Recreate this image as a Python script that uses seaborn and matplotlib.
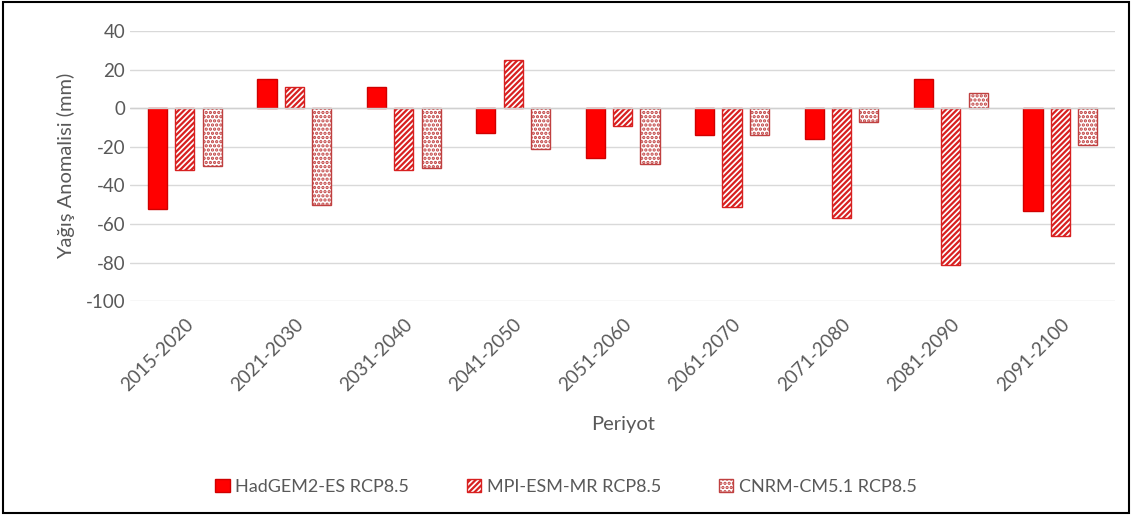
import matplotlib

matplotlib.use("Agg")
import matplotlib.pyplot as plt
import pandas as pd
import seaborn as sns
from matplotlib.patches import Patch

PERIODS = [
    "2015-2020", "2021-2030", "2031-2040", "2041-2050", "2051-2060",
    "2061-2070", "2071-2080", "2081-2090", "2091-2100",
]
MODELS = ["HadGEM2-ES RCP8.5", "MPI-ESM-MR RCP8.5", "CNRM-CM5.1 RCP8.5"]
HADGEM = [-52, 15, 11, -13, -26, -14, -16, 15, -53]
MPI = [-32, 11, -32, 25, -9, -51, -57, -81, -66]
CNRM = [-30, -50, -31, -21, -29, -14, -7, 8, -19]
Y_TICKS = [40, 20, 0, -20, -40, -60, -80, -100]

GREY = "#595959"
STYLES = [
    {"facecolor": "#ff0000", "edgecolor": "#d00000", "hatch": None},
    {"facecolor": "#ffffff", "edgecolor": "#d82020", "hatch": "//////"},
    {"facecolor": "#ffffff", "edgecolor": "#c04040", "hatch": "...."},
]


def build_frame() -> pd.DataFrame:
    rows = []
    for model, values in zip(MODELS, [HADGEM, MPI, CNRM]):
        for period, value in zip(PERIODS, values):
            rows.append({"Periyot": period, "Model": model, "Anomali": value})
    return pd.DataFrame(rows)


def main() -> None:
    sns.set_style("white")
    plt.rcParams["font.family"] = ["Lato", "DejaVu Sans"]
    plt.rcParams["hatch.linewidth"] = 1.6
    plt.rcParams["axes.unicode_minus"] = False

    df = build_frame()
    fig = plt.figure(figsize=(11.32, 5.15), dpi=100)
    ax = fig.add_axes([0.115, 0.415, 0.87, 0.525])

    sns.barplot(
        data=df, x="Periyot", y="Anomali", hue="Model", order=PERIODS,
        hue_order=MODELS, width=0.75, gap=0.3, ax=ax, legend=False,
    )
    for container, style in zip(ax.containers, STYLES):
        for bar in container:
            bar.set_facecolor(style["facecolor"])
            bar.set_edgecolor(style["edgecolor"])
            bar.set_linewidth(1.0)
            if style["hatch"]:
                bar.set_hatch(style["hatch"])

    ax.set_ylim(-100, 40)
    ax.set_yticks(Y_TICKS)
    ax.set_xlim(-0.5, len(PERIODS) - 0.5)
    ax.yaxis.grid(True, color="#d9d9d9", linewidth=1)
    ax.set_axisbelow(True)
    ax.axhline(0, color="#d0d0d0", linewidth=1, zorder=1)
    for spine in ax.spines.values():
        spine.set_visible(False)

    ax.tick_params(axis="both", colors=GREY, labelsize=13.5, length=0)
    ax.tick_params(axis="x", pad=10)
    plt.setp(ax.get_xticklabels(), rotation=45, ha="right", rotation_mode="anchor")
    ax.set_xlabel("Periyot", color=GREY, fontsize=14.5, labelpad=16)
    ax.set_ylabel("Yağış Anomalisi (mm)", color=GREY, fontsize=14.5, labelpad=8)

    handles = [
        Patch(facecolor=s["facecolor"], edgecolor=s["edgecolor"], hatch=s["hatch"])
        for s in STYLES
    ]
    fig.legend(
        handles, MODELS, loc="center", bbox_to_anchor=(0.5, 0.055), ncol=3,
        frameon=False, fontsize=13, labelcolor=GREY, handlelength=0.8,
        handleheight=0.8, columnspacing=3.2, handletextpad=0.3,
    )

    border = plt.Rectangle((0.003, 0.003), 0.994, 0.994, transform=fig.transFigure,
                           fill=False, edgecolor="black", linewidth=1.5)
    fig.patches.append(border)

    fig.savefig("out.png", dpi=100, facecolor="white")


if __name__ == "__main__":
    main()
